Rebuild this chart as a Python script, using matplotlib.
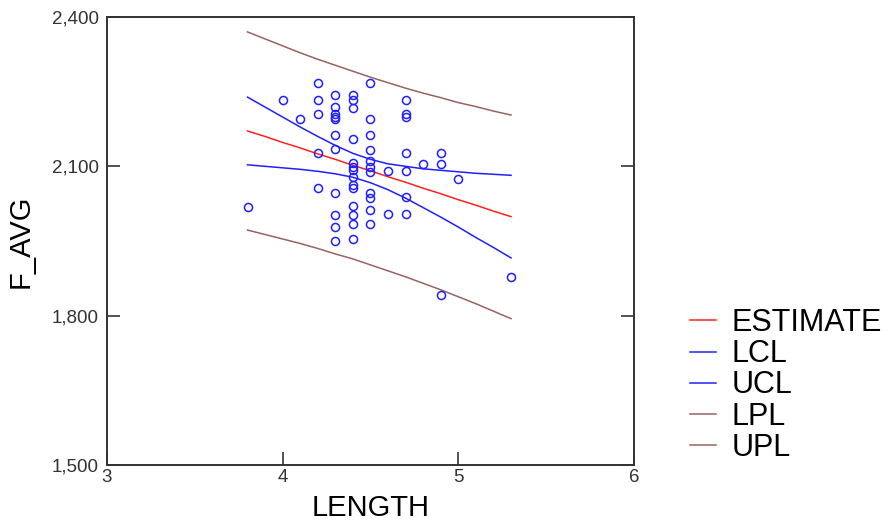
import numpy as np
import matplotlib
matplotlib.use("Agg")
import matplotlib.pyplot as plt
from matplotlib.ticker import FuncFormatter

plt.rcParams["font.family"] = ["Liberation Sans", "DejaVu Sans"]

# observed points (LENGTH, F_AVG)
length = [3.8, 4.0, 4.1,
          4.2, 4.2, 4.2, 4.2, 4.2,
          4.3, 4.3, 4.3, 4.3, 4.3, 4.3, 4.3, 4.3, 4.3, 4.3, 4.3,
          4.4, 4.4, 4.4, 4.4, 4.4, 4.4, 4.4, 4.4, 4.4, 4.4, 4.4, 4.4, 4.4, 4.4,
          4.5, 4.5, 4.5, 4.5, 4.5, 4.5, 4.5, 4.5, 4.5, 4.5, 4.5,
          4.6, 4.6,
          4.7, 4.7, 4.7, 4.7, 4.7, 4.7, 4.7,
          4.8, 4.9, 4.9, 4.9, 5.0, 5.3]
f_avg = [2019, 2233, 2196,
         2268, 2233, 2206, 2127, 2056,
         2243, 2220, 2206, 2200, 2195, 2162, 2134, 2047, 2002, 1978, 1949,
         2243, 2233, 2218, 2155, 2106, 2099, 2093, 2078, 2062, 2056, 2020, 2002, 1984, 1955,
         2268, 2196, 2162, 2133, 2111, 2099, 2089, 2047, 2036, 2012, 1984,
         2091, 2004,
         2233, 2205, 2200, 2126, 2091, 2039, 2004,
         2104, 2127, 2104, 1842, 2074, 1877]

# fitted line and bands
grid_x = [3.8, 3.9, 4.0, 4.1, 4.2, 4.3, 4.4, 4.5, 4.6, 4.7, 4.8, 4.9, 5.0, 5.1, 5.2, 5.3]
estimate = [2171, 2160, 2148, 2137, 2125, 2114, 2102, 2091, 2079, 2068, 2056, 2045, 2033, 2022, 2010, 1999]
lcl = [2103, 2100, 2097, 2094, 2090, 2085, 2078, 2067, 2053, 2036, 2017, 1998, 1978, 1957, 1937, 1916]
ucl = [2239, 2219, 2199, 2179, 2160, 2142, 2126, 2114, 2105, 2100, 2095, 2092, 2089, 2086, 2084, 2082]
lpl = [1972, 1963, 1954, 1945, 1935, 1924, 1914, 1902, 1890, 1878, 1865, 1852, 1838, 1824, 1809, 1794]
upl = [2370, 2356, 2342, 2328, 2315, 2303, 2291, 2279, 2268, 2257, 2247, 2238, 2228, 2220, 2211, 2203]

W, H = 890, 529
fig = plt.figure(figsize=(W / 100, H / 100), dpi=100)
ax = fig.add_axes([107 / W, 1 - 465 / H, (634 - 107) / W, (465 - 17) / H])

ax.plot(length, f_avg, "o", ms=5.8, mfc="none", mec="#2020ff", mew=1.1, zorder=3)
red = "#ff2020"
blue = "#2020ff"
brown = "#9a6262"
h_est, = ax.plot(grid_x, estimate, color=red, lw=1.1)
h_lcl, = ax.plot(grid_x, lcl, color=blue, lw=1.1)
h_ucl, = ax.plot(grid_x, ucl, color=blue, lw=1.1)
h_lpl, = ax.plot(grid_x, lpl, color=brown, lw=1.1)
h_upl, = ax.plot(grid_x, upl, color=brown, lw=1.1)

ax.set_xlim(3, 6)
ax.set_ylim(1500, 2400)
ax.set_xticks([3, 4, 5, 6])
ax.set_yticks([1500, 1800, 2100, 2400])
ax.yaxis.set_major_formatter(FuncFormatter(lambda v, p: f"{int(v):,}"))
ax.tick_params(axis="both", direction="in", length=9.5, width=1.2,
               labelsize=13.5, labelcolor="#333333", color="#333333")
ax.tick_params(axis="y", right=True, pad=6)
ax.tick_params(axis="x", pad=3)
for s in ax.spines.values():
    s.set_linewidth(1.4)
    s.set_color("#333333")

ax.set_xlabel("LENGTH", fontsize=21, labelpad=6)
ax.set_ylabel("F_AVG", fontsize=21, labelpad=12)

fig.legend([h_est, h_lcl, h_ucl, h_lpl, h_upl],
           ["ESTIMATE", "LCL", "UCL", "LPL", "UPL"],
           loc="upper left", bbox_to_anchor=(690 / W, 1 - 308 / H),
           frameon=False, fontsize=22, handlelength=0.85, handletextpad=0.5,
           labelspacing=0.04, borderpad=0, borderaxespad=0)

fig.savefig("out.png", dpi=100)
